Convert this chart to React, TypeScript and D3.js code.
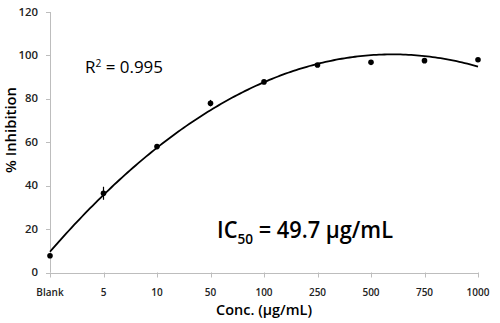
import React from "react";
import * as d3 from "d3";

const categories = ["Blank", "5", "10", "50", "100", "250", "500", "750", "1000"];
const inhibition = [7.7, 36.5, 58, 78, 87.8, 95.6, 96.8, 97.6, 98];
const errors = [0.5, 3, 1, 1.5, 0.8, 0.8, 0.6, 0.6, 0.6];
const yTicks = [0, 20, 40, 60, 80, 100, 120];

const W = 500;
const H = 323;
const FONT = "'Open Sans', 'Liberation Sans', sans-serif";

function quadFit(xs: number[], ys: number[]) {
  // least-squares quadratic regression (like a spreadsheet trendline)
  const n = xs.length;
  let s0 = n, s1 = 0, s2 = 0, s3 = 0, s4 = 0, t0 = 0, t1 = 0, t2 = 0;
  for (let i = 0; i < n; i++) {
    const x = xs[i], y = ys[i];
    s1 += x; s2 += x * x; s3 += x ** 3; s4 += x ** 4;
    t0 += y; t1 += x * y; t2 += x * x * y;
  }
  const M = [
    [s0, s1, s2, t0],
    [s1, s2, s3, t1],
    [s2, s3, s4, t2],
  ];
  for (let c = 0; c < 3; c++) {
    for (let r = c + 1; r < 3; r++) {
      const f = M[r][c] / M[c][c];
      for (let k = c; k < 4; k++) M[r][k] -= f * M[c][k];
    }
  }
  const coef = [0, 0, 0];
  for (let r = 2; r >= 0; r--) {
    let s = M[r][3];
    for (let k = r + 1; k < 3; k++) s -= M[r][k] * coef[k];
    coef[r] = s / M[r][r];
  }
  return (x: number) => coef[0] + coef[1] * x + coef[2] * x * x;
}

export default function App() {
  const x = d3.scalePoint<string>().domain(categories).range([50, 478]).padding(0);
  const y = d3.scaleLinear().domain([0, 120]).range([272.5, 12]);
  const idx = categories.map((_, i) => i);
  const f = quadFit(idx, inhibition);
  const step = x.step();
  const curvePts: [number, number][] = d3.range(0, 8.001, 0.05).map((t) => [50 + t * step, y(f(t))]);
  const line = d3.line().curve(d3.curveLinear)(curvePts) || "";
  const axisColor = "#bdbdbd";

  return (
    <svg width={W} height={H} style={{ position: "absolute", left: 0, top: 0, background: "#fff" }}>
      {/* y axis */}
      <line x1={50.5} x2={50.5} y1={y(120)} y2={y(0)} stroke={axisColor} strokeWidth={1} />
      {yTicks.map((t) => (
        <g key={t}>
          <line x1={46} x2={50.5} y1={Math.round(y(t)) + 0.5} y2={Math.round(y(t)) + 0.5} stroke={axisColor} />
          <text x={38} y={y(t) + 3.6} textAnchor="end" fontSize={10} fontWeight={600} fontFamily={FONT} fill="#222" textLength={String(t).length * 6.5} lengthAdjust="spacingAndGlyphs">
            {t}
          </text>
        </g>
      ))}
      {/* x axis */}
      <line x1={50} x2={478} y1={Math.round(y(0)) + 0.5} y2={Math.round(y(0)) + 0.5} stroke={axisColor} />
      {categories.map((c) => (
        <g key={c}>
          <line x1={Math.round(x(c)!) + 0.5} x2={Math.round(x(c)!) + 0.5} y1={y(0)} y2={y(0) + 5} stroke={axisColor} />
          <text x={x(c)} y={296} textAnchor="middle" fontSize={10} fontWeight={600} fontFamily={FONT} fill="#222">
            {c}
          </text>
        </g>
      ))}
      {/* trendline */}
      <path d={line} fill="none" stroke="#000" strokeWidth={1.8} />
      {/* error bars and points */}
      {categories.map((c, i) => (
        <g key={"p" + c}>
          <line x1={x(c)} x2={x(c)} y1={y(inhibition[i] - errors[i])} y2={y(inhibition[i] + errors[i])} stroke="#000" strokeWidth={1.2} />
          <circle cx={x(c)} cy={y(inhibition[i])} r={2.8} fill="#000" />
        </g>
      ))}
      {/* annotations */}
      <text x={85} y={73} fontSize={16.5} fontFamily={FONT} fill="#000" textLength={78} lengthAdjust="spacingAndGlyphs">
        R<tspan dy={-6} fontSize={10}>2</tspan><tspan dy={6}> = 0.995</tspan>
      </text>
      <text x={217} y={238} fontSize={24} fontWeight={600} fontFamily={FONT} fill="#000" textLength={176} lengthAdjust="spacingAndGlyphs">
        IC<tspan dy={6} fontSize={15}>50</tspan><tspan dy={-6}> = 49.7 µg/mL</tspan>
      </text>
      {/* axis titles */}
      <text x={264} y={315} textAnchor="middle" fontSize={13.5} fontWeight={600} fontFamily={FONT} fill="#000" textLength={96} lengthAdjust="spacingAndGlyphs">
        Conc. (µg/mL)
      </text>
      <text transform={`translate(16,130) rotate(-90)`} textAnchor="middle" fontSize={13.5} fontWeight={600} fontFamily={FONT} fill="#000" textLength={86} lengthAdjust="spacingAndGlyphs">
        % Inhibition
      </text>
    </svg>
  );
}
